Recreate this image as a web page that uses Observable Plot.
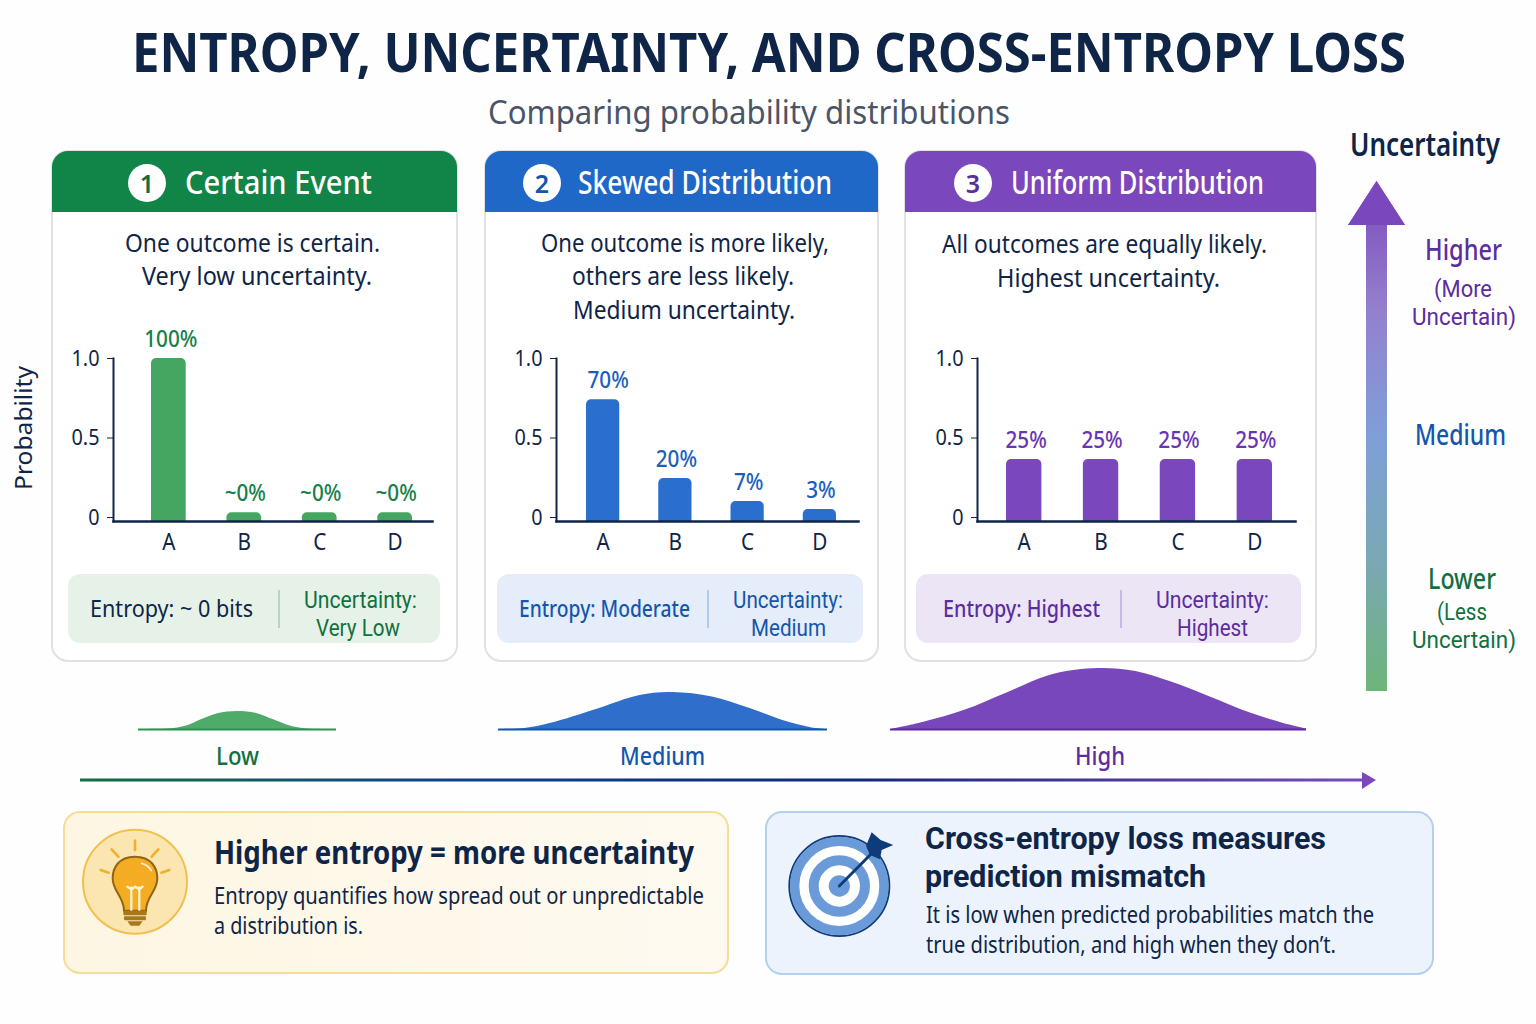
<!DOCTYPE html>
<html>
<head>
<meta charset="utf-8">
<script src="https://cdn.jsdelivr.net/npm/d3@7"></script>
<script src="https://cdn.jsdelivr.net/npm/@observablehq/plot@0.6"></script>
<style>
  html,body{margin:0;padding:0;background:#fff;}
  #page{position:relative;width:1536px;height:1024px;overflow:hidden;background:#fefefe;font-family:"Noto Sans",sans-serif;}
  #page svg{position:absolute;overflow:visible;}
</style>
</head>
<body>
<div id="page"></div>
<script>
// ---------- data ----------
const categories = ["A", "B", "C", "D"];
const certainHeights = [1.0, 0.03, 0.03, 0.03];
const certainLabels = ["100%", "~0%", "~0%", "~0%"];
const skewedHeights = [0.74, 0.245, 0.10, 0.05];
const skewedLabels = ["70%", "20%", "7%", "3%"];
const uniformHeights = [0.365, 0.365, 0.365, 0.365];
const uniformLabels = ["25%", "25%", "25%", "25%"];
const yTicks = [0, 0.5, 1];
const yTickLabels = ["0", "0.5", "1.0"];

const lowX = [0, 0.1, 0.18, 0.25, 0.32, 0.4, 0.5, 0.6, 0.68, 0.75, 0.82, 0.9, 1];
const lowY = [0, 0.01, 0.05, 0.22, 0.55, 0.88, 1, 0.88, 0.55, 0.25, 0.07, 0.01, 0];
const mediumX = [0, 0.08, 0.16, 0.3, 0.43, 0.53, 0.65, 0.76, 0.88, 0.95, 1];
const mediumY = [0, 0.03, 0.17, 0.55, 0.92, 1, 0.88, 0.58, 0.2, 0.05, 0];
const highX = [0, 0.08, 0.18, 0.28, 0.375, 0.445, 0.51, 0.59, 0.67, 0.77, 0.865, 0.945, 1];
const highY = [0, 0.12, 0.32, 0.6, 0.87, 0.97, 1, 0.95, 0.79, 0.53, 0.27, 0.1, 0.01];

const INK = "#0f2547", GREEN = "#11703f", BLUE = "#1556ad", PURPLE = "#5b2d9e";

// ---------- decoration: cards, arrows, icons, real text ----------
const page = document.getElementById("page");
function esc(s){return s.replace(/&/g,"&amp;").replace(/</g,"&lt;");}
function T(s,l,r,b,size,weight,color,family){
  const f = family ? ` font-family="${family}"` : "";
  return `<text x="${l}" y="${b}" textLength="${r-l}" lengthAdjust="spacingAndGlyphs" font-size="${size}" font-weight="${weight}" fill="${color}"${f}>${esc(s)}</text>`;
}
function card(l,r,color,cx,num,numColor,title,tl,tr){
  return `<rect x="${l}" y="151" width="${r-l}" height="510" rx="16" fill="#fff" stroke="#dfe1e4" stroke-width="2"/>
  <path d="M${l} 212V167a16 16 0 0 1 16-16H${r-16}a16 16 0 0 1 16 16V212Z" fill="${color}"/>
  <circle cx="${cx}" cy="183" r="19" fill="#fff"/>
  <text x="${cx}" y="192.5" text-anchor="middle" font-size="25" font-weight="600" fill="${numColor}">${num}</text>
  ${T(title,tl,tr,194,32,500,"#fff")}`;
}
function statBox(l,r,fill,div,divColor){
  return `<rect x="${l}" y="574" width="${r-l}" height="69" rx="12" fill="${fill}"/>
  <line x1="${div}" x2="${div}" y1="590" y2="628" stroke="${divColor}" stroke-width="1.5"/>`;
}
const decor = `
<svg width="1536" height="1024" style="left:0;top:0" font-family="Noto Sans, sans-serif">
<defs>
  <linearGradient id="vert" x1="0" y1="0" x2="0" y2="1">
    <stop offset="0" stop-color="#7a48bc"/><stop offset="0.25" stop-color="#9480cd"/>
    <stop offset="0.5" stop-color="#7f9fd8"/><stop offset="0.75" stop-color="#7aa8b4"/>
    <stop offset="1" stop-color="#6db57a"/>
  </linearGradient>
  <linearGradient id="horiz" x1="80" y1="0" x2="1366" y2="0" gradientUnits="userSpaceOnUse">
    <stop offset="0" stop-color="#11703f"/><stop offset="0.3" stop-color="#0e3f8e"/>
    <stop offset="0.6" stop-color="#12277e"/><stop offset="1" stop-color="#7a48bc"/>
  </linearGradient>
  <linearGradient id="warm" x1="0" y1="0" x2="1" y2="0">
    <stop offset="0" stop-color="#fdf6e3"/><stop offset="1" stop-color="#fefaf0"/>
  </linearGradient>
</defs>
${T("ENTROPY, UNCERTAINTY, AND CROSS-ENTROPY LOSS",132,1406,72,54,700,INK)}
${T("Comparing probability distributions",488,1010,124,33,400,"#4a5568")}

${card(52,457,"#118448",147,"1",GREEN,"Certain Event",185,372)}
${card(485,878,"#2068c8",542,"2",BLUE,"Skewed Distribution",578,832)}
${card(905,1316,"#7a48bc",973,"3",PURPLE,"Uniform Distribution",1011,1264)}

${T("One outcome is certain.",125,380,252,26,400,INK)}
${T("Very low uncertainty.",142,372,285,26,400,INK)}
${T("One outcome is more likely,",541,829,252,26,400,INK)}
${T("others are less likely.",572,794,285,26,400,INK)}
${T("Medium uncertainty.",573,795,319,26,400,INK)}
${T("All outcomes are equally likely.",942,1267,253,26,400,INK)}
${T("Highest uncertainty.",997,1220,287,26,400,INK)}

<text transform="translate(32,428) rotate(-90)" text-anchor="middle" font-size="24" fill="${INK}" textLength="124" lengthAdjust="spacingAndGlyphs">Probability</text>

${statBox(68,440,"#e6f2e8",279,"#a9c9b2")}
${T("Entropy: ~ 0 bits",90,253,617,23,400,INK)}
${T("Uncertainty:",304,417,608,23,400,GREEN,"Roboto")}
${T("Very Low",316,400,636,23,400,GREEN,"Roboto")}
${statBox(497,863,"#e4edf9",708,"#a5bfdf")}
${T("Entropy: Moderate",519,690,617,23,500,BLUE)}
${T("Uncertainty:",733,843,608,23,400,BLUE,"Roboto")}
${T("Medium",751,826,636,23,400,BLUE,"Roboto")}
${statBox(916,1301,"#ece5f6",1121,"#bcaadb")}
${T("Entropy: Highest",943,1100,617,23,500,PURPLE)}
${T("Uncertainty:",1156,1269,608,23,400,PURPLE,"Roboto")}
${T("Highest",1177,1248,636,23,400,PURPLE,"Roboto")}

${T("Low",216,259,765,25,500,GREEN)}
${T("Medium",620,705,765,25,500,BLUE)}
${T("High",1075,1125,765,25,500,PURPLE)}
<rect x="80" y="778.5" width="1286" height="3" fill="url(#horiz)"/>
<path d="M1362 772L1376 780L1362 789Z" fill="#7a48bc"/>

${T("Uncertainty",1350,1500,156,32,600,INK)}
<path d="M1376.5 181L1405 225H1387V691H1366V225H1348Z" fill="url(#vert)"/>
<path d="M1376.5 181L1405 225H1348Z" fill="#7a48bc"/>
${T("Higher",1425,1502,260,29,500,PURPLE)}
${T("(More",1434,1492,297,23.8,400,PURPLE,"Roboto")}
${T("Uncertain)",1412,1516,325,23.8,400,PURPLE,"Roboto")}
${T("Medium",1415,1506,445,29,500,BLUE)}
${T("Lower",1428,1496,589,29,500,GREEN)}
${T("(Less",1437,1487,620,23.8,400,GREEN,"Roboto")}
${T("Uncertain)",1412,1516,648,23.8,400,GREEN,"Roboto")}

<rect x="64" y="812" width="664" height="161" rx="16" fill="url(#warm)" stroke="#f6dc94" stroke-width="2"/>
<rect x="766" y="812" width="667" height="162" rx="16" fill="#edf3fc" stroke="#b3d0ee" stroke-width="2"/>

<g transform="translate(50,800) scale(0.3333)">
  <circle cx="255" cy="245" r="156" fill="#fbe6b2" stroke="#f2bf4e" stroke-width="6"/>
  <g stroke="#f0b02c" stroke-width="8" stroke-linecap="round">
    <line x1="255" y1="122" x2="255" y2="150"/><line x1="185" y1="148" x2="205" y2="170"/>
    <line x1="325" y1="148" x2="305" y2="170"/><line x1="152" y1="210" x2="176" y2="218"/>
    <line x1="358" y1="210" x2="334" y2="218"/>
  </g>
  <path d="M255 170C205 170 188 205 188 235C188 275 222 290 222 332H288C288 290 322 275 322 235C322 205 305 170 255 170Z" fill="#f4ac22" stroke="#8f6516" stroke-width="6"/>
  <g stroke="#fff2cf" stroke-width="7" fill="none" stroke-linecap="round">
    <path d="M244 330V262M268 330V262M232 260L244 268L256 260L268 268L278 260"/>
  </g>
  <path d="M275 190Q295 195 304 212" stroke="#fff2cf" stroke-width="5" fill="none" stroke-linecap="round"/>
  <rect x="220" y="332" width="70" height="14" rx="3" fill="#a8781c"/>
  <rect x="222" y="349" width="66" height="12" rx="3" fill="#a8781c"/>
  <path d="M232 364H278L268 377H242Z" fill="#a8781c"/>
</g>
${T("Higher entropy = more uncertainty",214,694,864,33,700,INK)}
${T("Entropy quantifies how spread out or unpredictable",214,704,904,24,400,INK)}
${T("a distribution is.",214,363,934,24,400,INK)}

<g transform="translate(760,800) scale(0.3333)">
  <circle cx="238" cy="258" r="150" fill="#fff" stroke="#0f3c78" stroke-width="6"/>
  <circle cx="238" cy="258" r="134" fill="none" stroke="#6a9bd8" stroke-width="28"/>
  <circle cx="238" cy="258" r="77" fill="none" stroke="#6a9bd8" stroke-width="30"/>
  <circle cx="238" cy="258" r="32" fill="#6a9bd8"/>
  <line x1="238" y1="258" x2="345" y2="150" stroke="#0f3c78" stroke-width="9" stroke-linecap="round"/>
  <path d="M318 138L335 97L362 120L400 135L365 150L360 178L330 165Z" fill="#0f3c78"/>
</g>
${T("Cross-entropy loss measures",925,1326,849,32,700,INK,"Roboto")}
${T("prediction mismatch",925,1206,887,32,700,INK,"Roboto")}
${T("It is low when predicted probabilities match the",926,1374,923,24,400,INK)}
${T("true distribution, and high when they don’t.",926,1336,953,24,400,INK)}
</svg>`;
page.insertAdjacentHTML("beforeend", decor);

// ---------- charts: Observable Plot ----------
function place(svg,left,top,squeeze){
  svg.style.left = left + "px";
  svg.style.top = top + "px";
  page.appendChild(svg);
  if (squeeze) svg.querySelectorAll("text").forEach(t => {
    const w = t.getComputedTextLength();
    if (w > 0) { t.setAttribute("textLength", (w*squeeze).toFixed(1)); t.setAttribute("lengthAdjust","spacingAndGlyphs"); }
  });
}
function barChart({left,width,marginRight,bandRange,heights,labels,barColor,labelColor,firstDx}){
  const rows = categories.map((c,i)=>({c, h:heights[i], label:labels[i]}));
  const svg = Plot.plot({
    width, height:231, marginTop:28, marginBottom:40, marginLeft:53, marginRight,
    style:{fontFamily:"Noto Sans, sans-serif", background:"transparent", overflow:"visible"},
    x:{domain:categories, range:bandRange, paddingInner:0.54, paddingOuter:0, round:false, label:null},
    y:{domain:[-0.025,1], label:null},
    marks:[
      Plot.rectY(rows,{x:"c", y1:-0.1, y2:"h", fill:barColor, rx:5, clip:"frame"}),
      Plot.frame({anchor:"left", stroke:INK, strokeWidth:2}),
      Plot.frame({anchor:"bottom", stroke:INK, strokeWidth:2.5}),
      Plot.axisY({ticks:yTicks, tickFormat:v=>yTickLabels[yTicks.indexOf(v)], tickSize:6, tickPadding:8, fontSize:22, color:INK, label:null}),
      Plot.axisX({tickSize:0, tickPadding:12, fontSize:23, color:INK, label:null}),
      Plot.text(rows.slice(0,1),{x:"c", y:"h", text:"label", dy:-19, dx:firstDx, fontSize:23, fontWeight:500, fill:labelColor}),
      Plot.text(rows.slice(1),{x:"c", y:"h", text:"label", dy:-19, dx:1, fontSize:23, fontWeight:500, fill:labelColor})
    ]
  });
  place(svg,left,330,0.9);
}
barChart({left:60,width:390,marginRight:18,bandRange:[91,352],heights:certainHeights,labels:certainLabels,barColor:"#44a660",labelColor:"#16804a",firstDx:2});
barChart({left:503,width:373,marginRight:18,bandRange:[83,333],heights:skewedHeights,labels:skewedLabels,barColor:"#2a6fce",labelColor:"#1b5fbd",firstDx:5});
barChart({left:924,width:389,marginRight:18,bandRange:[82,348],heights:uniformHeights,labels:uniformLabels,barColor:"#7a48bc",labelColor:"#6a35b2",firstDx:2});

function bell({left,top,width,height,xs,ys,fill,stroke}){
  const rows = xs.map((x,i)=>({x,y:ys[i]}));
  const svg = Plot.plot({
    width, height, margin:0, marginBottom:1,
    style:{background:"transparent", overflow:"visible"},
    x:{domain:[0,1], axis:null},
    y:{domain:[0,1], axis:null},
    marks:[
      Plot.areaY(rows,{x:"x", y:"y", fill, curve:"catmull-rom", clip:"frame"}),
      Plot.ruleY([0],{stroke, strokeWidth:2})
    ]
  });
  place(svg,left,top);
}
bell({left:138,top:711,width:198,height:19,xs:lowX,ys:lowY,fill:"#4fab69",stroke:"#2b9350"});
bell({left:498,top:692,width:329,height:38,xs:mediumX,ys:mediumY,fill:"#2f6fcb",stroke:"#1556ad"});
bell({left:890,top:668,width:416,height:62,xs:highX,ys:highY,fill:"#7847bb",stroke:"#5b2d9e"});
</script>
</body>
</html>
